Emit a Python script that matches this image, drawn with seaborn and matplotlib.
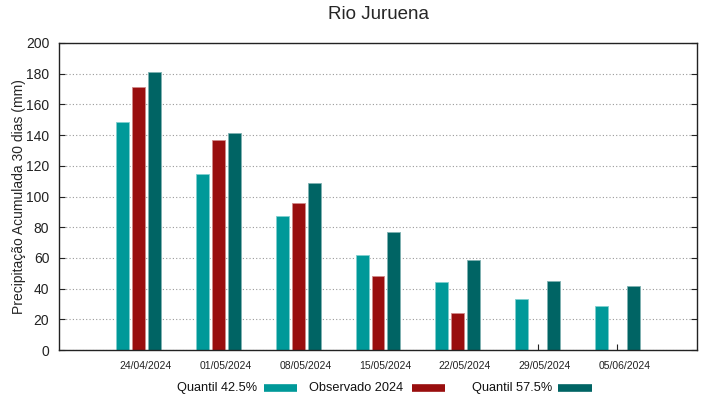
import numpy as np
import pandas as pd
import matplotlib
matplotlib.use("Agg")
import matplotlib.pyplot as plt
import matplotlib.transforms as mtransforms
from matplotlib.lines import Line2D
import seaborn as sns

dates = ["24/04/2024", "01/05/2024", "08/05/2024", "15/05/2024",
         "22/05/2024", "29/05/2024", "05/06/2024"]
q425 = [148.5, 114.7, 87.3, 62.0, 44.3, 33.2, 28.7]
obs2024 = [171.3, 136.8, 95.8, 48.2, 24.1, np.nan, np.nan]
q575 = [181.0, 141.4, 108.8, 76.9, 58.6, 45.0, 41.7]
series_names = ["Quantil 42.5%", "Observado 2024", "Quantil 57.5%"]
colors = ["#009999", "#990e0e", "#006464"]
edge_colors = ["#7fcfcf", "#d08a8a", "#7fb2b2"]

df = pd.DataFrame({
    "data": dates * 3,
    "serie": [series_names[0]] * 7 + [series_names[1]] * 7 + [series_names[2]] * 7,
    "valor": q425 + obs2024 + q575,
})

sns.set_theme(style="white")
plt.rcParams["font.family"] = ["Liberation Sans", "DejaVu Sans"]

fig = plt.figure(figsize=(7.19, 3.99), dpi=100)
ax = fig.add_axes([59 / 719, 1 - 350 / 399, 638 / 719, 307 / 399])

sns.barplot(data=df, x="data", y="valor", hue="serie", order=dates,
            hue_order=series_names, palette=colors, width=0.6, gap=0.19,
            saturation=1, errorbar=None, ax=ax, legend=False, linewidth=0.6)

# light outline per series
for cont, ec in zip(ax.containers, edge_colors):
    for p in cont.patches:
        p.set_edgecolor(ec)

ax.set_xlim(-1.0, 7.0)
ax.set_ylim(0, 200)
ax.set_yticks(np.arange(0, 201, 20))
ax.set_xlabel("")
ax.set_ylabel("Precipitação Acumulada 30 dias (mm)", fontsize=10, labelpad=0)
ax.set_title("Rio Juruena", fontsize=13.5, pad=17)

ax.yaxis.grid(True, color="#999999", linestyle=(0, (1, 2)), linewidth=0.8)
ax.xaxis.grid(False)
ax.set_axisbelow(True)

for s in ax.spines.values():
    s.set_visible(True)
    s.set_color("#222222")
    s.set_linewidth(1.0)

ax.tick_params(axis="y", direction="in", length=4, width=0.8, left=True,
               right=True, labelsize=10, pad=7, colors="#222222")
ax.tick_params(axis="x", direction="in", length=4, width=0.8, bottom=True,
               top=False, labelsize=7.5, pad=8, colors="#222222")

offset = mtransforms.ScaledTranslation(7 / 100, 0, fig.dpi_scale_trans)
for lbl in ax.get_xticklabels():
    lbl.set_transform(lbl.get_transform() + offset)

# gnuplot-style key: text, then colour sample
W, H = 719.0, 399.0
key_y = 1 - 388 / H
text_right = [257, 403, 552]
sample_x = [(264, 297), (412, 445), (558, 592)]
for name, c, tr, (x0, x1) in zip(series_names, colors, text_right, sample_x):
    fig.text(tr / W, key_y, name, ha="right", va="center", fontsize=9.2,
             color="#111111")
    fig.add_artist(Line2D([x0 / W, x1 / W], [key_y, key_y], color=c, lw=5.5,
                          solid_capstyle="butt", transform=fig.transFigure))

fig.savefig("out.png", dpi=100)
